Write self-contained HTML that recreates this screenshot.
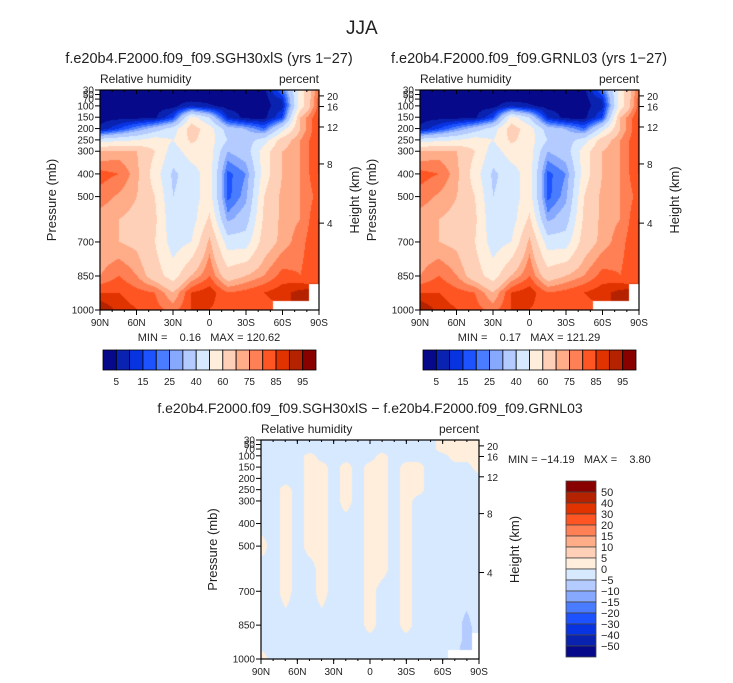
<!DOCTYPE html>
<html><head><meta charset="utf-8">
<style>
body{margin:0;background:#fff;width:733px;height:683px;overflow:hidden;position:relative;font-family:"Liberation Sans",sans-serif;color:#222}
.t{position:absolute;white-space:nowrap}
canvas{position:absolute}
svg{position:absolute;left:0;top:0}
</style></head><body>
<div class="t" style="left:346px;top:18px;font-size:19px">JJA</div>
<canvas id="c1" width="219" height="220" style="left:100px;top:90px"></canvas>
<canvas id="c2" width="219" height="220" style="left:420px;top:90px"></canvas>
<canvas id="c3" width="218" height="219" style="left:261px;top:440px"></canvas>
<svg id="ov" width="733" height="683"></svg>
<script>
// ---- data ----
const levels = [30,50,70,100,150,200,250,300,400,500,600,700,850,925,1000];
const lats1 = ["90N","75N","60N","45N","30N","15N","0","15S","30S","45S","60S","75S","90S"];
const rh1 = [
[3,3,3,3,3,3,3,3,3,3,20,55,80],
[3,3,3,3,3,3,3,3,3,3,15,55,80],
[3,3,3,3,3,3,3,3,3,3,10,55,82],
[3,3,3,3,3,10,6,3,3,3,8,55,82],
[3,3,3,4,15,55,40,10,3,3,15,70,85],
[6,15,25,35,45,65,55,35,30,20,45,70,85],
[45,48,50,55,50,62,55,40,35,45,65,75,85],
[70,72,70,60,45,55,55,30,35,55,70,75,85],
[82,80,72,55,38,45,55,18,25,55,70,75,85],
[78,74,70,60,40,45,55,18,28,60,72,75,82],
[72,70,68,62,42,45,62,28,35,62,72,75,85],
[70,70,68,60,45,50,72,45,45,65,72,78,85],
[75,80,75,65,55,70,80,65,70,75,82,80,85],
[85,85,82,80,70,85,88,80,82,85,88,92,null],
[95,88,85,82,78,85,85,82,82,82,null,null,null]];
const rh2 = rh1;
const lats3 = ["90N","80N","70N","60N","50N","40N","30N","20N","10N","0","10S","20S","30S","40S","50S","60S","70S","80S","90S"];
const diff = [
[-2,-2,-2,-2,-2,-2,-2,-2,-2,-2,-2,-2,-2,-2,-2,2,2,2,2],
[-2,-2,-2,-2,-2,-2,-2,-2,-2,-2,-2,-2,-2,-2,-2,2,2,2,2],
[-2,-2,-2,-2,-2,-2,-2,-2,-2,-2,-2,-2,-2,-2,-2,2,2,2,2],
[-2,-2,-2,-2,2,-2,-2,-2,-2,-2,2,-2,-2,-2,-2,-2,2,2,2],
[-2,-2,-2,-2,2,2,-2,2,-2,2,2,-2,2,2,-2,-2,-2,-2,2],
[-2,-2,-2,-2,2,2,-2,2,-2,2,2,-2,2,2,-2,-2,-2,-2,-2],
[-2,-2,2,-2,2,2,-2,2,-2,2,2,-2,2,2,-2,-2,-2,-2,-2],
[-2,-2,2,-2,2,2,-2,2,-2,2,2,-2,2,-2,-2,-2,-2,-2,-2],
[-2,-2,2,-2,2,2,-2,-2,-2,2,2,-2,2,-2,-2,-2,-2,-2,-2],
[2,-2,2,-2,2,2,-2,-2,-2,2,2,-2,2,-2,-2,-2,-2,-2,-2],
[-2,-2,2,-2,-2,2,-2,-2,-2,2,2,-2,2,-2,-2,-2,-2,-2,-2],
[-2,-2,2,-2,-2,2,-2,-2,-2,2,-2,-2,2,-2,-2,-2,-2,-2,-2],
[-2,-2,-2,-2,-2,-2,-2,-2,-2,2,-2,-2,2,-2,-2,-2,-2,-7,-2],
[-2,-2,-2,-2,-2,-2,-2,-2,-2,-2,-2,-2,-2,-2,-2,-2,-2,-7,null],
[2,-2,-2,-2,-2,-2,-2,-2,-2,-2,-2,-2,-2,-2,-2,-2,null,null,null]];
const bounds1 = [5,10,15,20,25,30,40,50,60,70,75,80,85,90,95];
const cbLabels1 = ["5","15","25","40","60","75","85","95"];
const bounds3 = [-50,-40,-30,-20,-15,-10,-5,0,5,10,15,20,30,40,50];
const cbLabels3 = ["50","40","30","20","15","10","5","0","\u22125","\u221210","\u221215","\u221220","\u221230","\u221240","\u221250"];
const xTicks = ["90N","60N","30N","0","30S","60S","90S"];
const pTicks = [30,50,70,100,150,200,250,300,400,500,700,850,1000];
const hTicks = [[20,56],[16,103],[12,193],[8,356],[4,617]]; // [km, approx pressure mb]
const colors = ["#060a8a","#0a22b0","#0833e0","#1c52ff","#4a7cff","#86a8ff","#b4cbff","#d7e9ff","#ffeedc","#ffd0b8","#ffac88","#ff8055","#ff5522","#e03300","#b52200","#880000"];

function hex(c){return [parseInt(c.substr(1,2),16),parseInt(c.substr(3,2),16),parseInt(c.substr(5,2),16)];}
const rgb = colors.map(hex);
function pIndex(p){for(let i=0;i<levels.length-1;i++){if(p<=levels[i+1])return i+(p-levels[i])/(levels[i+1]-levels[i]);}return levels.length-1;}
function draw(id,grid,bounds){
  const cv=document.getElementById(id),ctx=cv.getContext('2d'),W=cv.width,H=cv.height;
  const img=ctx.createImageData(W,H),nc=grid[0].length,nr=grid.length;
  for(let y=0;y<H;y++){
    const p=30+(1000-30)*y/(H-1),fi=pIndex(p),r0=Math.min(Math.floor(fi),nr-2),fr=fi-r0;
    for(let x=0;x<W;x++){
      const fj=(nc-1)*x/(W-1),c0=Math.min(Math.floor(fj),nc-2),fc=fj-c0;
      const a=grid[r0][c0],b=grid[r0][c0+1],c=grid[r0+1][c0],d=grid[r0+1][c0+1];
      const near=grid[Math.round(fi)][Math.round(fj)];
      let k=(y*W+x)*4;
      if(near===null){img.data[k]=255;img.data[k+1]=255;img.data[k+2]=255;img.data[k+3]=255;continue;}
      const vals=[a,b,c,d].map(v=>v===null?near:v);
      const v=(vals[0]*(1-fc)+vals[1]*fc)*(1-fr)+(vals[2]*(1-fc)+vals[3]*fc)*fr;
      let ci=0;while(ci<bounds.length&&v>=bounds[ci])ci++;
      const col=rgb[ci];img.data[k]=col[0];img.data[k+1]=col[1];img.data[k+2]=col[2];img.data[k+3]=255;
    }
  }
  ctx.putImageData(img,0,0);
}
draw('c1',rh1,bounds1);draw('c2',rh2,bounds1);draw('c3',diff,bounds3);

const NS="http://www.w3.org/2000/svg",ov=document.getElementById('ov');
function mk(tag,attrs,parent){const e=document.createElementNS(NS,tag);for(const k in attrs)e.setAttribute(k,attrs[k]);(parent||ov).appendChild(e);return e;}
function txt(x,y,s,size,anchor,name,rot){
  const e=mk('text',{x:x,y:y,'font-size':size,'text-anchor':anchor||'middle',fill:'#222','font-family':'Liberation Sans, sans-serif',style:'white-space:pre'});
  
  
  if(rot)e.setAttribute('transform','rotate(-90 '+x+' '+y+')');
  e.textContent=s;return e;
}
function axes(L,T,W,H,pre){
  const g=mk('g',{});
  
  
  mk('rect',{x:L,y:T,width:W,height:H,fill:'none',stroke:'#000','stroke-width':1.2},g);
  const yOf=p=>T+H*(p-30)/970;
  pTicks.forEach(p=>{const y=yOf(p);mk('line',{x1:L-5,x2:L,y1:y,y2:y,stroke:'#000'},g);
    txt(L-6,y+3.5,String(p),10,'end',pre+'-pressure-tick');});
  hTicks.forEach(h=>{const y=yOf(h[1]);mk('line',{x1:L+W,x2:L+W+5,y1:y,y2:y,stroke:'#000'},g);
    txt(L+W+8,y+4,String(h[0]),10,'start',pre+'-height-tick');});
  xTicks.forEach((s,i)=>{const x=L+W*i/(xTicks.length-1);
    mk('line',{x1:x,x2:x,y1:T+H,y2:T+H+5,stroke:'#000'},g);mk('line',{x1:x,x2:x,y1:T,y2:T+4,stroke:'#000'},g);
    txt(x,T+H+16,s,10,'middle',pre+'-lat-tick');});
  for(let i=0;i<18;i++){const x=L+W*i/18;mk('line',{x1:x,x2:x,y1:T,y2:T+2,stroke:'#000'},g);mk('line',{x1:x,x2:x,y1:T+H,y2:T+H+2,stroke:'#000'},g);}
  txt(L,T-7,'Relative humidity',12,'start',pre+'-variable-label');
  txt(L+W,T-7,'percent',12,'end',pre+'-units-label');
  txt(L-44,T+H/2,'Pressure (mb)',13,'middle',pre+'-y-axis-title',true);
  txt(L+W+40,T+H/2,'Height (km)',13,'middle',pre+'-height-axis-title',true);
}
function hbar(L,T,W,H,pre){
  const n=colors.length,bw=W/n;
  colors.forEach((c,i)=>{const r=mk('rect',{x:L+i*bw,y:T,width:bw,height:H,fill:c,stroke:'#000','stroke-width':0.8});
    
    });
  cbLabels1.forEach((s,i)=>txt(L+bw*(1+2*i),T+H+15,s,10,'middle',pre+'-colorbar-label'));
}
axes(100,90,219,220,'p1');axes(420,90,219,220,'p2');axes(261,440,218,219,'p3');
hbar(103,350,213,20,'p1');hbar(423,350,213,20,'p2');
txt(209,63,'f.e20b4.F2000.f09_f09.SGH30xlS (yrs 1\u221227)',14.5,'middle','panel-1-title');
txt(529,63,'f.e20b4.F2000.f09_f09.GRNL03 (yrs 1\u221227)',14.5,'middle','panel-2-title');
txt(370,413,'f.e20b4.F2000.f09_f09.SGH30xlS \u2212 f.e20b4.F2000.f09_f09.GRNL03',14,'middle','diff-panel-title');
txt(209,341,'MIN =    0.16   MAX = 120.62',11,'middle','panel-1-minmax');
txt(529,341,'MIN =    0.17   MAX = 121.29',11,'middle','panel-2-minmax');
txt(508,463,'MIN = \u221214.19   MAX =    3.80',11,'start','diff-minmax');
// vertical colorbar for diff
(function(){const L=566,T=481,W=30,H=176,n=colors.length,bh=H/n;
  for(let i=0;i<n;i++){const r=mk('rect',{x:L,y:T+i*bh,width:W,height:bh,fill:colors[n-1-i],stroke:'#444','stroke-width':0.8});
    
    }
  cbLabels3.forEach((s,i)=>txt(L+W+5,T+bh*(i+1)+4,s,11,'start','diff-colorbar-label'));
})();
</script>
</body></html>
